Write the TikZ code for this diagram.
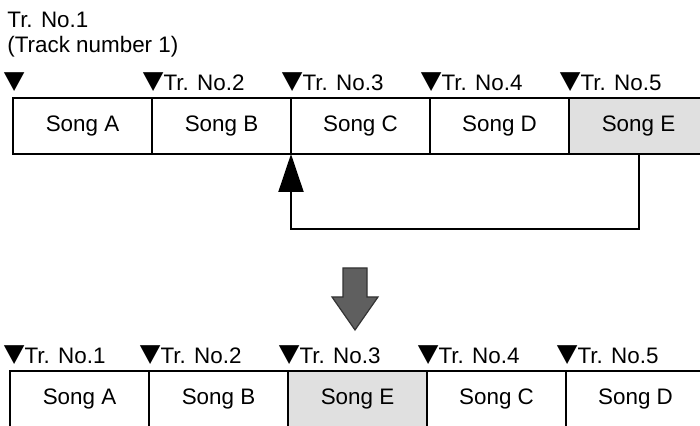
\documentclass[tikz,border=0pt]{standalone}
\usepackage{fontspec}
\setmainfont{Liberation Sans}
\newfontfamily\symfont{DejaVu Sans}
\usepackage{tikz}
\usetikzlibrary{positioning, calc, arrows.meta}
\usepackage{xcolor}
\definecolor{dotgray}{RGB}{224,224,224}
\definecolor{arrowgray}{RGB}{95,95,95}
\newcommand{\tri}{{\symfont\raisebox{1.2pt}{\scalebox{1.2}[1.1]{▼}}}}

\begin{document}
\begin{tikzpicture}[x=0.5pt, y=0.5pt,
    font=\fontsize{11.2}{13}\selectfont,
    node distance=0pt,
    songbox/.style={draw, line width=1pt, minimum width=69.5pt, minimum height=28pt, inner sep=0pt, outer sep=0pt},
    hilite/.style={songbox, fill=dotgray},
    tag/.style={inner sep=0pt, anchor=base west},
    ret/.style={line width=1pt, -{Triangle[length=19pt, width=12.5pt]}},
    bigarrow/.style={fill=arrowgray, draw=black!80, line width=0.6pt}
]
\useasboundingbox (0,0) rectangle (700,426);
\clip (0,0) rectangle (700,426);

% ============ BEFORE: original order ============
\node[songbox] (sA) at (82.5,300) {Song A};
\node[songbox, right=of sA] (sB) {Song B};
\node[songbox, right=of sB] (sC) {Song C};
\node[songbox, right=of sC] (sD) {Song D};
\node[hilite, right=of sD] (sE) {Song E};

% Track marks
\node[tag] (tA) at ($(sA.north west)+(-9.5,7)$) {\tri};
\node[tag] (tB) at ($(sB.north west)+(-9.5,7)$) {\tri Tr. No.2};
\node[tag] (tC) at ($(sC.north west)+(-9.5,7)$) {\tri Tr. No.3};
\node[tag] (tD) at ($(sD.north west)+(-9.5,7)$) {\tri Tr. No.4};
\node[tag] (tE) at ($(sE.north west)+(-9.5,7)$) {\tri Tr. No.5};
\node[tag] (noteA) at (7,398) {Tr. No.1};
\node[tag] (noteB) at (7,373) {(Track number 1)};

% Move Song E in front of Song C
\draw[ret] (sE.south) -- ++(0,-75) -| (sC.south west);

% ============ Transition ============
\draw[bigarrow] (343,158) -- (367,158) -- (367,129) -- (378,129)
  -- (355,96) -- (332,129) -- (343,129) -- cycle;

% ============ AFTER: new order ============
\node[songbox] (bA) at (79.5,27) {Song A};
\node[songbox, right=of bA] (bB) {Song B};
\node[hilite, right=of bB] (bE) {Song E};
\node[songbox, right=of bE] (bC) {Song C};
\node[songbox, right=of bC] (bD) {Song D};

\node[tag] (uA) at ($(bA.north west)+(-6.5,7)$) {\tri Tr. No.1};
\node[tag] (uB) at ($(bB.north west)+(-9.5,7)$) {\tri Tr. No.2};
\node[tag] (uE) at ($(bE.north west)+(-9.5,7)$) {\tri Tr. No.3};
\node[tag] (uC) at ($(bC.north west)+(-9.5,7)$) {\tri Tr. No.4};
\node[tag] (uD) at ($(bD.north west)+(-9.5,7)$) {\tri Tr. No.5};

\end{tikzpicture}
\end{document}
